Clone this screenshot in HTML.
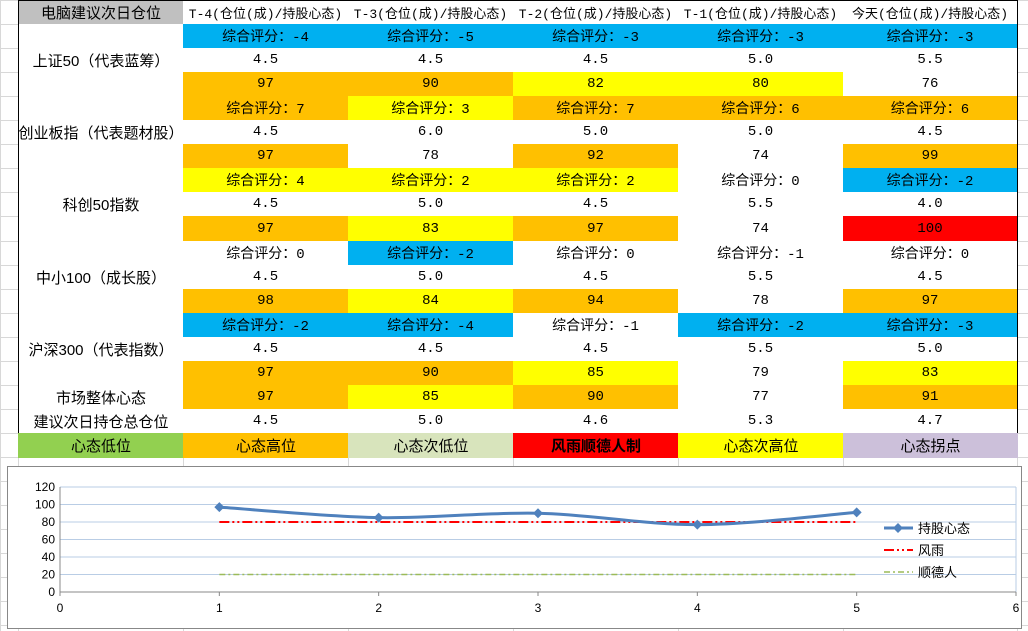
<!DOCTYPE html>
<html><head><meta charset="utf-8">
<style>
body{margin:0;width:1028px;height:631px;background:#fff;overflow:hidden;position:relative;font-family:"Liberation Sans","Noto Sans CJK SC",sans-serif;}
.c{position:absolute;box-sizing:border-box;display:flex;align-items:center;justify-content:center;font-size:14px;color:#000;font-family:"Liberation Mono","Noto Sans CJK SC",monospace;border-right:1.5px solid #000;border-bottom:1.5px solid #000;white-space:nowrap;}
.g{position:absolute;background:#d8d8d8;}
</style></head><body>
<div id="sheet"></div>
<svg id="chart" width="1028" height="631" style="position:absolute;left:0;top:0"></svg>
<script>
const colX=[18,183,348,513,678,843,1017];
const RH=24.05;
const headers=["电脑建议次日仓位","T-4(仓位(成)/持股心态)","T-3(仓位(成)/持股心态)","T-2(仓位(成)/持股心态)","T-1(仓位(成)/持股心态)","今天(仓位(成)/持股心态)"];
const indices=["上证50（代表蓝筹）","创业板指（代表题材股）","科创50指数","中小100（成长股）","沪深300（代表指数）"];
const scores=[[-4,-5,-3,-3,-3],[7,3,7,6,6],[4,2,2,0,-2],[0,-2,0,-1,0],[-2,-4,-1,-2,-3]];
const positions=[["4.5","4.5","4.5","5.0","5.5"],["4.5","6.0","5.0","5.0","4.5"],["4.5","5.0","4.5","5.5","4.0"],["4.5","5.0","4.5","5.5","4.5"],["4.5","4.5","4.5","5.5","5.0"]];
const moods=[[97,90,82,80,76],[97,78,92,74,99],[97,83,97,74,100],[98,84,94,78,97],[97,90,85,79,83]];
const marketMood=[97,85,90,77,91];
const suggested=["4.5","5.0","4.6","5.3","4.7"];
const legendRow=["心态低位","心态高位","心态次低位","风雨顺德人制","心态次高位","心态拐点"];
const B="#00b0f0",O="#ffc000",Y="#ffff00",R="#ff0000",W="#fff";
const scoreCol=[[B,B,B,B,B],[O,Y,O,O,O],[Y,Y,Y,W,B],[W,B,W,W,W],[B,B,W,B,B]];
const moodCol=[[O,O,Y,Y,W],[O,W,O,W,O],[O,Y,O,W,R],[O,Y,O,W,O],[O,O,Y,W,Y]];
const marketCol=[O,Y,O,W,O];
const legendCol=["#92d050",O,"#d8e4bc",R,Y,"#ccc0da"];
const sheet=document.getElementById('sheet');
// background gridlines
for(let r=0;r<=26;r++){const d=document.createElement('div');d.className='g';d.style.cssText=`left:0;top:${Math.round(r*RH)}px;width:1028px;height:1px`;sheet.appendChild(d);}
for(const x of [0,18,183,348,513,678,843,1017]){const d=document.createElement('div');d.className='g';d.style.cssText=`left:${x}px;top:0;width:1px;height:631px`;sheet.appendChild(d);}
function cell(c,r,rs,text,bg,name,extra){
  const d=document.createElement('div');d.className='c';
  d.style.left=colX[c]+'px';d.style.width=(colX[c+1]-colX[c]+1)+'px';
  d.style.top=Math.round(r*RH)+'px';d.style.height=(Math.round((r+rs)*RH)-Math.round(r*RH)+1)+'px';
  d.style.background=bg;d.textContent=text;if(extra)d.style.cssText+=extra;
  
  
  sheet.appendChild(d);
}
headers.forEach((h,i)=>cell(i,0,1,h,i==0?"#c0c0c0":W,i==0?"header-title":"header-day-"+i,i==0?"font-family:'Liberation Sans','Noto Sans CJK SC',sans-serif;font-size:15px;border-left:1.5px solid #000;border-top:1.5px solid #000":"font-size:13px;border-top:1.5px solid #000"));
indices.forEach((n,k)=>{
  const r=1+k*3;
  cell(0,r,3,n,W,"index-name","font-family:'Liberation Sans','Noto Sans CJK SC',sans-serif;font-size:15px;border-left:1.5px solid #000");
  for(let j=0;j<5;j++){
    cell(j+1,r,1,"综合评分："+scores[k][j],scoreCol[k][j],"score-cell");
    cell(j+1,r+1,1,positions[k][j],W,"position-cell");
    cell(j+1,r+2,1,String(moods[k][j]),moodCol[k][j],"mood-cell");
  }
});
cell(0,16,1,"市场整体心态",W,"market-mood-label","font-family:'Liberation Sans','Noto Sans CJK SC',sans-serif;font-size:15px;border-left:1.5px solid #000");
cell(0,17,1,"建议次日持仓总仓位",W,"suggested-position-label","font-family:'Liberation Sans','Noto Sans CJK SC',sans-serif;font-size:15px;border-left:1.5px solid #000");
for(let j=0;j<5;j++){cell(j+1,16,1,String(marketMood[j]),marketCol[j],"market-mood-cell");cell(j+1,17,1,suggested[j],W,"suggested-position-cell");}
legendRow.forEach((t,i)=>cell(i,18,1,t,legendCol[i],"legend-swatch-"+i,"border:none;font-family:'Liberation Sans','Noto Sans CJK SC',sans-serif;font-size:15px;"+(i==3?"font-weight:bold;":"")));

// chart
const xCats=[1,2,3,4,5];
const holdMood=[97,85,90,77,91];
const fengyu=[80,80,80,80,80];
const shunde=[20,20,20,20,20];
const yTicks=[0,20,40,60,80,100,120];
const xTicks=[0,1,2,3,4,5,6];
const svg=document.getElementById('chart');const NS="http://www.w3.org/2000/svg";
const X=v=>60+v*(1016-60)/6, Yp=v=>592-v*(592-487)/120;
function el(t,a,name){const e=document.createElementNS(NS,t);for(const k in a)e.setAttribute(k,a[k]);svg.appendChild(e);return e;}
el('rect',{x:7.5,y:466.5,width:1014,height:162,fill:'#fff',stroke:'#888','stroke-width':1},'chart-frame');
yTicks.forEach(v=>{if(v>0)el('line',{x1:X(0),x2:X(6),y1:Yp(v),y2:Yp(v),stroke:'#b9cde5','stroke-width':1},'gridline');
  const t=el('text',{x:X(0)-5,y:Yp(v)+4,'text-anchor':'end','font-size':12,fill:'#000'},'y-tick-label');t.textContent=v;});
el('line',{x1:X(6),x2:X(6),y1:Yp(120),y2:Yp(0),stroke:'#b9cde5'},'plot-border');
el('line',{x1:X(0),x2:X(0),y1:Yp(120),y2:Yp(0)+4,stroke:'#888'},'y-axis');
el('line',{x1:X(0),x2:X(6),y1:Yp(0),y2:Yp(0),stroke:'#888'},'x-axis');
xTicks.forEach(v=>{el('line',{x1:X(v),x2:X(v),y1:Yp(0),y2:Yp(0)+4,stroke:'#888'},'x-tick');
  const t=el('text',{x:X(v),y:Yp(0)+20,'text-anchor':'middle','font-size':12},'x-tick-label');t.textContent=v;});
el('line',{x1:X(xCats[0]),x2:X(xCats[4]),y1:Yp(fengyu[0]),y2:Yp(fengyu[4]),stroke:'#ff0000','stroke-width':2,'stroke-dasharray':'10 3 2 3 2 3'},'series-fengyu');
el('line',{x1:X(xCats[0]),x2:X(xCats[4]),y1:Yp(shunde[0]),y2:Yp(shunde[4]),stroke:'#9bbb59','stroke-width':1.5,'stroke-dasharray':'6 3 2 3'},'series-shunde');
const pts=xCats.map((c,i)=>[X(c),Yp(holdMood[i])]);
let d=`M${pts[0][0]},${pts[0][1]}`;
for(let i=0;i<pts.length-1;i++){const p0=pts[Math.max(0,i-1)],p1=pts[i],p2=pts[i+1],p3=pts[Math.min(pts.length-1,i+2)];
  d+=` C${p1[0]+(p2[0]-p0[0])/6},${p1[1]+(p2[1]-p0[1])/6} ${p2[0]-(p3[0]-p1[0])/6},${p2[1]-(p3[1]-p1[1])/6} ${p2[0]},${p2[1]}`;}
el('path',{d:d,fill:'none',stroke:'#4f81bd','stroke-width':3},'series-hold-mood');
pts.forEach(p=>el('path',{d:`M${p[0]-5},${p[1]} L${p[0]},${p[1]-5} L${p[0]+5},${p[1]} L${p[0]},${p[1]+5}Z`,fill:'#4f81bd'},'hold-mood-point'));
// legend
el('line',{x1:884,x2:913,y1:528,y2:528,stroke:'#4f81bd','stroke-width':3},'legend-hold-mood-line');
el('path',{d:'M893,528 L898,523 L903,528 L898,533Z',fill:'#4f81bd'},'legend-hold-mood-marker');
el('line',{x1:884,x2:913,y1:550,y2:550,stroke:'#ff0000','stroke-width':2,'stroke-dasharray':'10 3 2 3 2 3'},'legend-fengyu-line');
el('line',{x1:884,x2:913,y1:572,y2:572,stroke:'#9bbb59','stroke-width':1.5,'stroke-dasharray':'6 3 2 3'},'legend-shunde-line');
[["持股心态",528],["风雨",550],["顺德人",572]].forEach(([t,y])=>{const e=el('text',{x:918,y:y+5,'font-size':13,'font-family':"'Liberation Sans','Noto Sans CJK SC',sans-serif"},'legend-label');e.textContent=t;});
</script>
</body></html>
